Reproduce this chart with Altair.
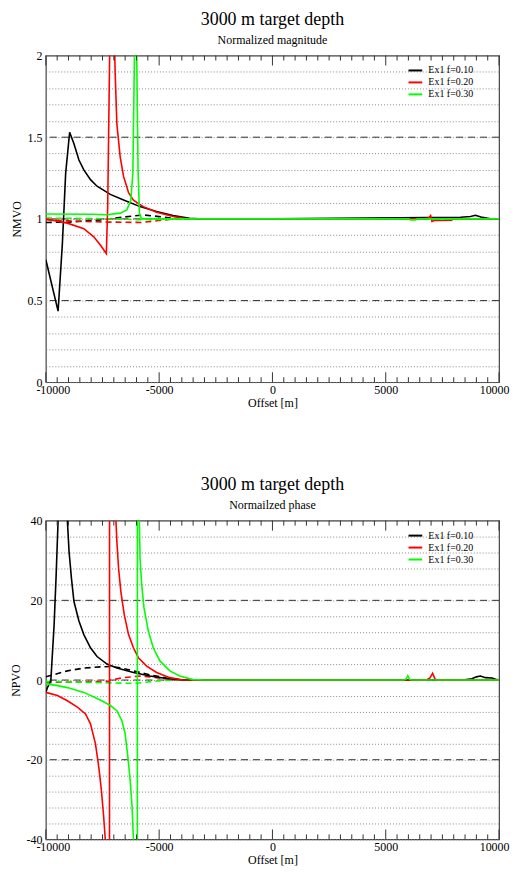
import altair as alt
import pandas as pd

SERIES = ["Ex1 f=0.10", "Ex1 f=0.20", "Ex1 f=0.30"]
COLORS = ["#000000", "#ff0000", "#00ff00"]

X_LABELS = [-10000, -5000, 0, 5000, 10000]
X_MINOR = list(range(-10000, 10001, 500))

# ---------------- Top panel: normalized magnitude ----------------
MAG_Y_GRID = [0, 0.1, 0.2, 0.3, 0.4, 0.5, 0.6, 0.7, 0.8, 0.9, 1.0,
              1.1, 1.2, 1.3, 1.4, 1.5, 1.6, 1.7, 1.8, 1.9, 2.0]
MAG_Y_LABELS = [0, 0.5, 1, 1.5, 2]
MAG_Y_MAJOR = [0.5, 1.0, 1.5]

mag_black_x = [-10000, -9460, -9270, -9125, -8950, -8760, -8540, -8324, -8030, -7740,
               -7155, -6570, -5843, -5113, -4385, -3655, -3217, 0, 8300, 8740, 8960,
               9200, 9620, 10000]
mag_black_y = [0.75, 0.435, 0.85, 1.28, 1.53, 1.46, 1.36, 1.30, 1.24, 1.20,
               1.15, 1.116, 1.075, 1.045, 1.02, 1.004, 1.0, 1.0, 1.01, 1.015, 1.022,
               1.012, 1.0, 1.0]

mag_red_x = [-10000, -9050, -8324, -7885, -7595, -7330, -7270, -7185, -7100, -6990,
             -6960, -6940, -6865, -6720, -6570, -6350, -6135, -5700, -5113, -4385,
             -3800, 0, 6700, 6900, 6980, 7040, 7150, 7900, 8000, 10000]
mag_red_y = [1.0, 0.974, 0.94, 0.89, 0.84, 0.787, 1.08, 2.0, 8.0, 3.0,
             2.0, 1.89, 1.58, 1.38, 1.26, 1.16, 1.115, 1.075, 1.04, 1.014,
             1.0, 1.0, 1.0, 1.005, 1.02, 0.984, 0.99, 0.992, 1.0, 1.0]

mag_green_x = [-10000, -8000, -7300, -6720, -6425, -6250, -6160, -6090, -6040, -5990,
               -5930, -5870, -5770, 0, 6000, 6100, 6300, 6400, 10000]
mag_green_y = [1.03, 1.028, 1.025, 1.035, 1.055, 1.115, 1.28, 2.0, 6.0, 2.0,
               1.3, 1.03, 1.0, 1.0, 1.0, 0.994, 0.994, 1.0, 1.0]

mag_black_dash_x = [-10000, -9000, -7595, -6135, -5700, -5000, -4200, -3500, 10000]
mag_black_dash_y = [0.978, 0.98, 0.994, 1.018, 1.024, 1.014, 1.0, 1.0, 1.0]
mag_red_dash_x = [-10000, -8500, -7000, -5800, -5000, -4300, 10000]
mag_red_dash_y = [0.995, 0.985, 0.98, 0.978, 0.99, 1.0, 1.0]
mag_green_dash_x = [-10000, -7000, -6000, -5000, -4000, 10000]
mag_green_dash_y = [1.005, 1.0, 0.995, 0.997, 1.0, 1.0]

# ---------------- Bottom panel: normalized phase ----------------
PH_Y_GRID = list(range(-40, 41, 4))
PH_Y_LABELS = [-40, -20, 0, 20, 40]
PH_Y_MAJOR = [-20, 0, 20]

ph_black_x = [-10000, -9930, -9780, -9635, -9545, -9460, -9300, -9100, -9050, -8975,
              -8870, -8760, -8540, -8324, -8030, -7740, -7300, -6865, -6135, -5405,
              -4675, -3945, 0, 8400, 8800, 9000, 9180, 9400, 9700, 9900, 10000]
ph_black_y = [-3.1, -1.9, -0.2, 13.9, 26.4, 40.0, 100.0, 60.0, 40.0, 32.2,
              25.5, 19.7, 14.8, 11.4, 8.1, 5.9, 4.0, 3.0, 1.9, 1.0,
              0.4, 0.0, 0.0, 0.0, 0.3, 0.8, 1.0, 0.6, 0.5, 0.1, 0.0]

ph_red_x = [-10000, -9490, -9050, -8610, -8250, -8030, -7810, -7665, -7550, -7450,
            -7375, -7300, -7195, -7185, -7100, -6906, -6865, -6790, -6690, -6540,
            -6350, -6135, -5915, -5550, -5113, -4530, -3945, 0, 6800, 6950, 7067,
            7180, 7300, 10000]
ph_red_y = [-3.1, -3.9, -5.2, -6.8, -8.5, -11.0, -16.0, -21.8, -27.6, -34.2,
            -40.1, -80.0, -300.0, 300.0, 150.0, 40.0, 34.7, 28.0, 22.2, 16.4,
            11.4, 8.1, 5.6, 3.5, 1.9, 0.6, 0.0, 0.0, 0.0, 0.5, 1.7,
            0.2, 0.0, 0.0]

ph_green_x = [-10000, -9490, -9050, -8324, -7595, -7155, -6865, -6645, -6500, -6380,
              -6280, -6195, -6135, -6050, -5965, -5955, -5900, -5873, -5843, -5770,
              -5668, -5478, -5260, -4967, -4530, -4090, -3510, -3000, 0, 5800, 5900,
              5973, 6050, 6150, 10000]
ph_green_y = [-0.9, -1.4, -1.9, -3.1, -5.0, -6.4, -7.7, -10.2, -13.5, -19.3,
              -25.1, -31.8, -40.0, -90.0, -300.0, 300.0, 120.0, 40.0, 30.5, 23.9,
              18.1, 12.3, 8.1, 4.8, 2.3, 1.0, 0.1, 0.0, 0.0, 0.0, 0.3,
              1.1, 0.2, 0.0, 0.0]

ph_black_dash_x = [-10000, -9050, -8324, -7600, -7155, -6720, -6135, -5405, -4675, -3800, 10000]
ph_black_dash_y = [0.8, 2.3, 3.0, 3.3, 3.4, 3.1, 2.3, 1.3, 0.5, 0.0, 0.0]
ph_red_dash_x = [-10000, -8500, -7200, -7150, -6570, -5843, -5113, -4400, 10000]
ph_red_dash_y = [-0.6, -0.5, -0.3, 0.0, 0.6, 1.0, 0.6, 0.0, 0.0]
ph_green_dash_x = [-10000, -8000, -6500, -6000, -5500, -5000, -4500, 10000]
ph_green_dash_y = [-0.4, -0.6, -0.8, -0.8, -0.5, -0.2, 0.0, 0.0]

SERIF = "Liberation Serif"


def frame(triples):
    rows = []
    for name, xs, ys in triples:
        for i, (a, b) in enumerate(zip(xs, ys)):
            rows.append({"series": name, "x": a, "y": b, "order": i})
    return pd.DataFrame(rows)


def panel(solid, dashed, ydom, ygrid, ylabels, ymajor, ytitle, subtitle, height):
    width = 455
    label_test = "indexof([" + ",".join(str(v) for v in ylabels) + "], datum.value) >= 0 ? '' + datum.value : ''"
    x_enc = alt.X("x:Q", scale=alt.Scale(domain=[-10000, 10000], nice=False, zero=False),
                  axis=alt.Axis(values=X_LABELS, title="Offset [m]", grid=False, ticks=False,
                                domain=False, labelExpr="'' + datum.value", labelFlush=True,
                                labelFlushOffset=10,
                                labelFont=SERIF, labelFontSize=12, labelColor="#000",
                                labelPadding=2, titleFont=SERIF, titleFontSize=12,
                                titleFontWeight="normal", titleColor="#000", titlePadding=2))
    y_enc = alt.Y("y:Q", scale=alt.Scale(domain=ydom, nice=False, zero=False),
                  axis=alt.Axis(values=ygrid, title=ytitle, grid=True, gridDash=[1, 2],
                                gridColor="#888", gridWidth=1, ticks=False, domain=False,
                                labelExpr=label_test, labelFont=SERIF, labelFontSize=12,
                                labelColor="#000", labelPadding=4, labelOverlap=False,
                                labelFlush=False,
                                titleFont=SERIF, titleFontSize=12, titleFontWeight="normal",
                                titleColor="#000", titlePadding=3))
    color = alt.Color("series:N", scale=alt.Scale(domain=SERIES, range=COLORS),
                      legend=alt.Legend(title=None, orient="none", legendX=364, legendY=8,
                                        symbolType="M-1.2,0H1.2", symbolSize=132,
                                        symbolStrokeWidth=2,
                                        labelFont=SERIF, labelFontSize=10, labelColor="#000",
                                        rowPadding=0, labelOffset=6))

    major = alt.Chart(pd.DataFrame({"y": ymajor})).mark_rule(
        color="#333", strokeDash=[7, 5], strokeWidth=1).encode(y=y_enc)

    dash_lines = alt.Chart(dashed).mark_line(strokeDash=[6, 4], strokeWidth=1.6, clip=True).encode(
        x=x_enc, y=y_enc, color=color, order="order:Q", detail="series:N")
    solid_lines = alt.Chart(solid).mark_line(strokeWidth=1.6, clip=True).encode(
        x=x_enc, y=y_enc, color=color, order="order:Q", detail="series:N")

    tick_major = [v for v in X_MINOR if v % 5000 == 0]
    tick_minor = [v for v in X_MINOR if v % 5000 != 0]
    tdf_min = pd.DataFrame({"x": tick_minor})
    tdf_maj = pd.DataFrame({"x": tick_major})
    tk = dict(color="#333", strokeWidth=1)
    ticks = [
        alt.Chart(tdf_min).mark_rule(**tk).encode(x=x_enc, y=alt.value(0), y2=alt.value(5)),
        alt.Chart(tdf_min).mark_rule(**tk).encode(x=x_enc, y=alt.value(height), y2=alt.value(height - 5)),
        alt.Chart(tdf_maj).mark_rule(**tk).encode(x=x_enc, y=alt.value(0), y2=alt.value(10)),
        alt.Chart(tdf_maj).mark_rule(**tk).encode(x=x_enc, y=alt.value(height), y2=alt.value(height - 10)),
    ]

    return alt.layer(major, dash_lines, solid_lines, *ticks).properties(
        width=width, height=height,
        title=alt.TitleParams(text="3000 m target depth", subtitle=subtitle, font=SERIF,
                              fontSize=18, fontWeight="normal", color="#000",
                              subtitleFont=SERIF, subtitleFontSize=12, subtitleColor="#000",
                              subtitlePadding=6, offset=4, anchor="middle"))


top = panel(
    frame([(SERIES[0], mag_black_x, mag_black_y), (SERIES[1], mag_red_x, mag_red_y),
           (SERIES[2], mag_green_x, mag_green_y)]),
    frame([(SERIES[0], mag_black_dash_x, mag_black_dash_y), (SERIES[1], mag_red_dash_x, mag_red_dash_y),
           (SERIES[2], mag_green_dash_x, mag_green_dash_y)]),
    [0, 2], MAG_Y_GRID, MAG_Y_LABELS, MAG_Y_MAJOR, "NMVO", "Normalized magnitude", 328)

bottom = panel(
    frame([(SERIES[0], ph_black_x, ph_black_y), (SERIES[1], ph_red_x, ph_red_y),
           (SERIES[2], ph_green_x, ph_green_y)]),
    frame([(SERIES[0], ph_black_dash_x, ph_black_dash_y), (SERIES[1], ph_red_dash_x, ph_red_dash_y),
           (SERIES[2], ph_green_dash_x, ph_green_dash_y)]),
    [-40, 40], PH_Y_GRID, PH_Y_LABELS, PH_Y_MAJOR, "NPVO", "Normailzed phase", 320)

chart = alt.vconcat(top, bottom, spacing=66).resolve_legend(color="independent").configure_view(
    stroke="#444", strokeWidth=1.2).properties(padding={"left": 1, "top": 0, "right": 0, "bottom": 0})

chart.save("out.html", embed_options={"renderer": "svg", "actions": False})
